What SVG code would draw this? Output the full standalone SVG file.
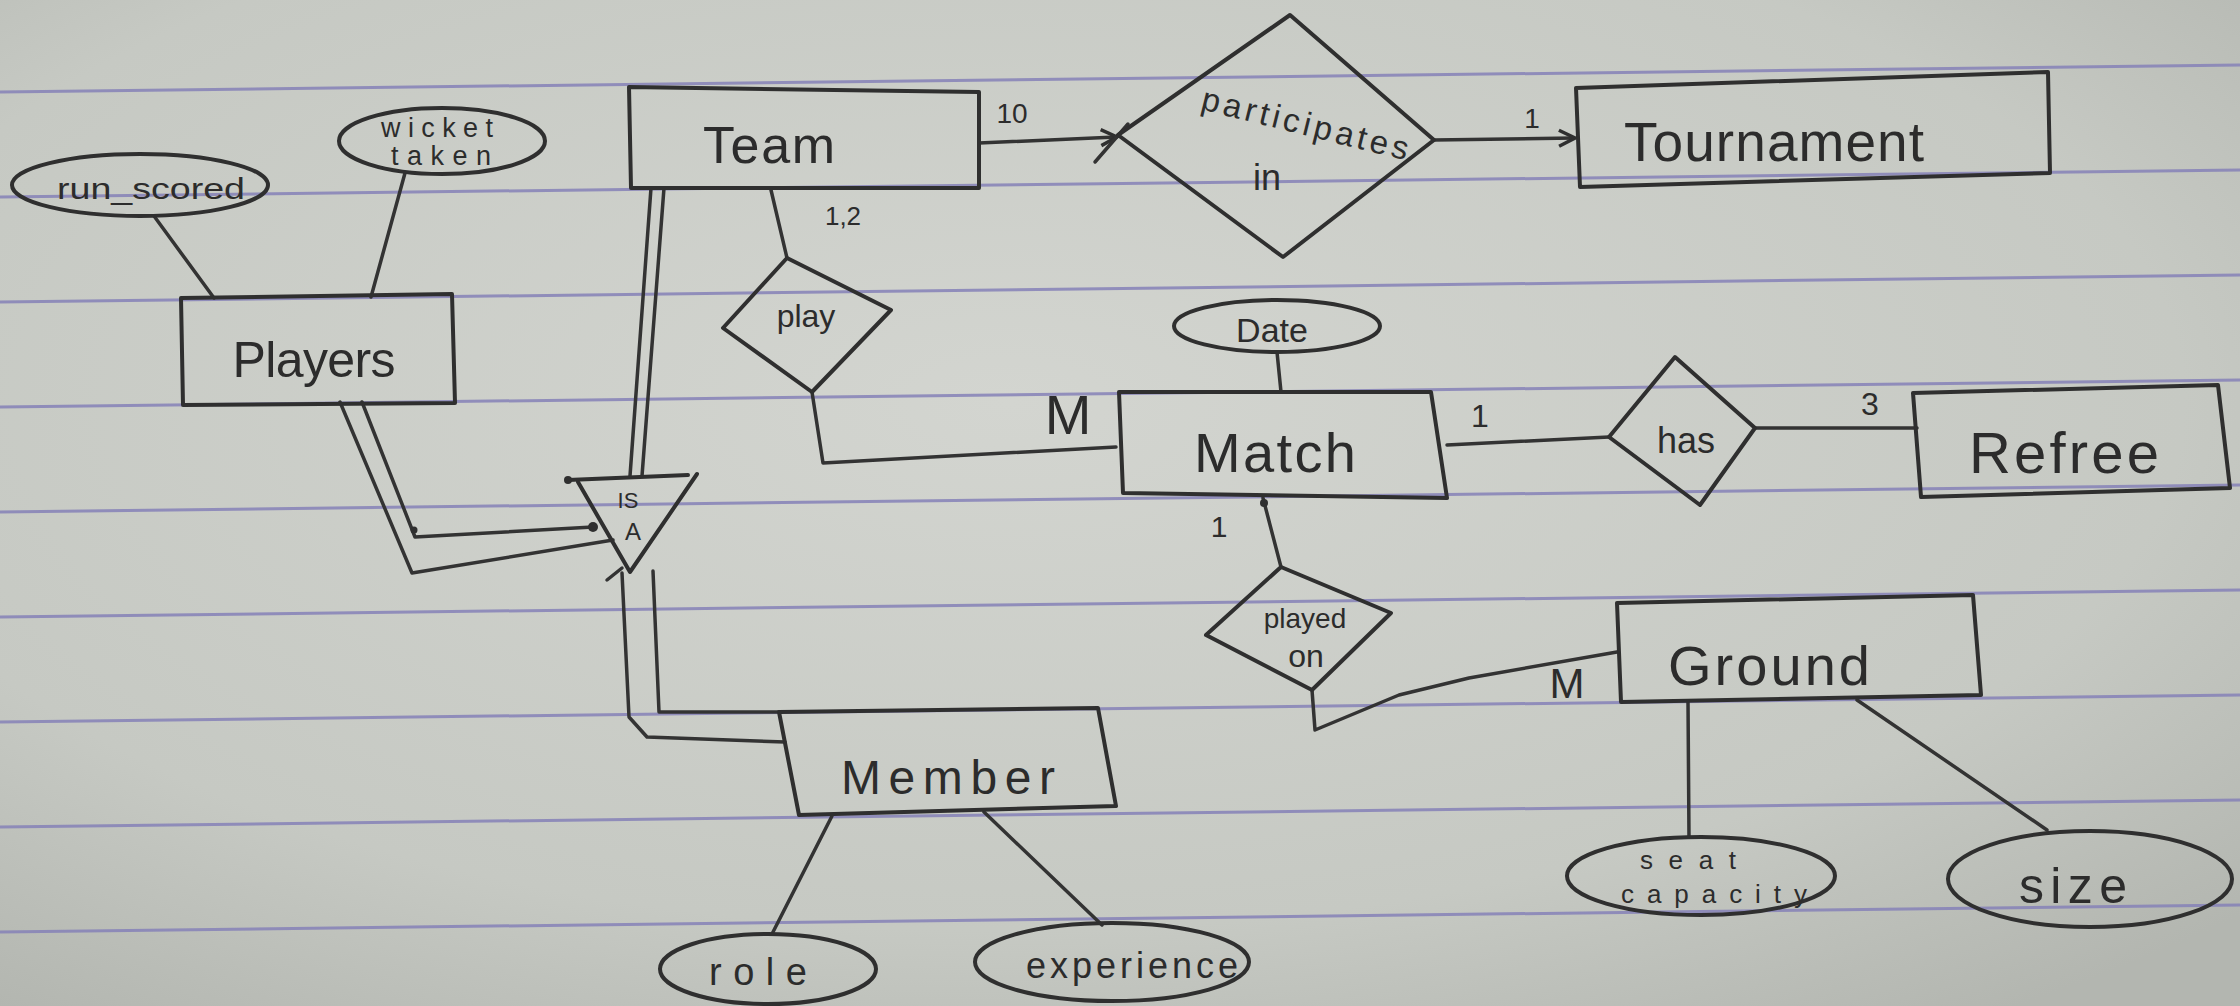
<svg xmlns="http://www.w3.org/2000/svg" width="2240" height="1006" viewBox="0 0 2240 1006">
<defs>
<radialGradient id="paper" cx="0.45" cy="0.4" r="0.75">
<stop offset="0" stop-color="#d3d5d0"/>
<stop offset="0.7" stop-color="#c6c9c3"/>
<stop offset="1" stop-color="#b3b6b0"/>
</radialGradient>
<marker id="arr" viewBox="0 0 20 20" refX="17" refY="10" markerWidth="20" markerHeight="20" markerUnits="userSpaceOnUse" orient="auto">
<path d="M2,2 L18,10 L2,18" fill="none" stroke="#2f2f2f" stroke-width="3.5"/>
</marker>
<style>
.ink{fill:none;stroke:#2f2f2f;stroke-width:4;stroke-linejoin:round;stroke-linecap:round}
.ln{fill:none;stroke:#333;stroke-width:3.5;stroke-linejoin:round;stroke-linecap:round}
.rule{stroke:#8682b8;stroke-width:3;opacity:0.85}
.t{font-family:"Liberation Sans","DejaVu Sans",sans-serif;fill:#2c2c2c;text-anchor:middle}
.dot{fill:#2f2f2f}
</style>
</defs>
<rect width="2240" height="1006" fill="url(#paper)"/>
<g id="paper-lines">
<line class="rule" x1="0" y1="92" x2="2240" y2="65"/>
<line class="rule" x1="0" y1="197" x2="2240" y2="170"/>
<line class="rule" x1="0" y1="302" x2="2240" y2="275"/>
<line class="rule" x1="0" y1="407" x2="2240" y2="380"/>
<line class="rule" x1="0" y1="512" x2="2240" y2="485"/>
<line class="rule" x1="0" y1="617" x2="2240" y2="590"/>
<line class="rule" x1="0" y1="722" x2="2240" y2="695"/>
<line class="rule" x1="0" y1="827" x2="2240" y2="800"/>
<line class="rule" x1="0" y1="932" x2="2240" y2="905"/>
</g>

<g id="connectors">
<!-- attributes -->
<line class="ln" x1="154" y1="216" x2="214" y2="298"/>
<line class="ln" x1="405" y1="173" x2="371" y2="297"/>
<line class="ln" x1="1277" y1="352" x2="1281" y2="392"/>
<line class="ln" x1="832" y1="816" x2="772" y2="934"/>
<line class="ln" x1="984" y1="812" x2="1102" y2="925"/>
<line class="ln" x1="1688" y1="702" x2="1689" y2="837"/>
<line class="ln" x1="1857" y1="700" x2="2047" y2="830"/>
<!-- Team - participates in - Tournament -->
<line class="ln" x1="979" y1="143" x2="1116" y2="137" marker-end="url(#arr)"/>
<line class="ln" x1="1095" y1="162" x2="1128" y2="124" stroke="#5a3a3a"/>
<line class="ln" x1="1434" y1="140" x2="1574" y2="138" marker-end="url(#arr)"/>
<!-- Team - play - Match -->
<polyline class="ln" points="771,190 787,258"/>
<polyline class="ln" points="812,392 823,463 1116,447"/>
<!-- Match - has - Refree -->
<polyline class="ln" points="1447,445 1609,437"/>
<polyline class="ln" points="1755,428 1917,428"/>
<!-- Match - played on - Ground -->
<polyline class="ln" points="1263,498 1281,567"/>
<circle class="dot" cx="1264" cy="503" r="4"/>
<polyline class="ln" points="1312,690 1315,730 1399,695 1469,678 1617,652"/>
<!-- Team = ISA -->
<line class="ln" x1="651" y1="188" x2="630" y2="476"/>
<line class="ln" x1="664" y1="188" x2="642" y2="476"/>
<!-- Players = ISA -->
<polyline class="ln" points="340,402 412,573 613,540"/>
<polyline class="ln" points="362,402 415,537 593,527"/>
<circle class="dot" cx="593" cy="527" r="5"/>
<circle class="dot" cx="414" cy="530" r="3.5"/>
<!-- ISA = Member -->
<polyline class="ln" points="622,573 629,717 647,737 785,742"/>
<polyline class="ln" points="653,571 659,712 782,712"/>
<line class="ln" x1="607" y1="580" x2="622" y2="568"/>
</g>

<g id="players">
<polygon class="ink" points="181,298 452,294 455,403 183,405"/>
<text class="t" x="314" y="377" font-size="50" textLength="163">Players</text>
</g>
<g id="run_scored">
<ellipse class="ink" cx="140" cy="185" rx="128" ry="31"/>
<text class="t" x="151" y="199" font-size="30" textLength="188" lengthAdjust="spacingAndGlyphs">run_scored</text>
</g>
<g id="wicket_taken">
<ellipse class="ink" cx="442" cy="141" rx="103" ry="33"/>
<text class="t" x="437" y="137" font-size="27" textLength="112">wicket</text>
<text class="t" x="441" y="165" font-size="27" textLength="100">taken</text>
</g>
<g id="team">
<polygon class="ink" points="629,87 979,92 979,188 631,188"/>
<text class="t" x="769" y="163" font-size="52" textLength="132">Team</text>
<text class="t" x="1012" y="123" font-size="28">10</text>
<text class="t" x="843" y="225" font-size="26">1,2</text>
</g>
<g id="participates_in">
<polygon class="ink" points="1290,15 1434,140 1283,257 1118,135"/>
<text class="t" x="1305" y="135" font-size="33" textLength="212" transform="rotate(14 1305 125)">participates</text>
<text class="t" x="1267" y="190" font-size="36">in</text>
<text class="t" x="1532" y="128" font-size="28">1</text>
</g>
<g id="tournament">
<polygon class="ink" points="1576,88 2048,72 2050,173 1580,187"/>
<text class="t" x="1774" y="161" font-size="55" textLength="300">Tournament</text>
</g>
<g id="play">
<polygon class="ink" points="787,258 891,310 812,392 723,328"/>
<text class="t" x="806" y="327" font-size="32">play</text>
<text class="t" x="1068" y="434" font-size="56">M</text>
</g>
<g id="date">
<ellipse class="ink" cx="1277" cy="326" rx="103" ry="26"/>
<text class="t" x="1272" y="342" font-size="34">Date</text>
</g>
<g id="match">
<polygon class="ink" points="1119,392 1431,392 1447,498 1123,493"/>
<text class="t" x="1275" y="472" font-size="56" textLength="162">Match</text>
<text class="t" x="1480" y="427" font-size="32">1</text>
<text class="t" x="1219" y="537" font-size="30">1</text>
</g>
<g id="has">
<polygon class="ink" points="1675,357 1755,428 1700,505 1609,437"/>
<text class="t" x="1686" y="453" font-size="36">has</text>
<text class="t" x="1870" y="415" font-size="32">3</text>
</g>
<g id="refree">
<polygon class="ink" points="1913,393 2218,385 2230,488 1921,497"/>
<text class="t" x="2064" y="473" font-size="58" textLength="190">Refree</text>
</g>
<g id="played_on">
<polygon class="ink" points="1281,567 1391,613 1312,690 1206,635"/>
<text class="t" x="1305" y="628" font-size="28">played</text>
<text class="t" x="1306" y="667" font-size="32">on</text>
<text class="t" x="1567" y="698" font-size="42">M</text>
</g>
<g id="ground">
<polygon class="ink" points="1617,603 1973,595 1981,695 1621,702"/>
<text class="t" x="1769" y="685" font-size="56" textLength="202">Ground</text>
</g>
<g id="seat_capacity">
<ellipse class="ink" cx="1701" cy="876" rx="134" ry="39"/>
<text class="t" x="1688" y="869" font-size="26" textLength="96">seat</text>
<text class="t" x="1714" y="903" font-size="26" textLength="186">capacity</text>
</g>
<g id="size">
<ellipse class="ink" cx="2090" cy="879" rx="142" ry="48"/>
<text class="t" x="2073" y="903" font-size="50" textLength="108">size</text>
</g>
<g id="isa">
<polyline class="ink" points="568,480 688,475"/>
<polyline class="ink" points="578,482 630,572 697,474"/>
<circle class="dot" cx="568" cy="480" r="4"/>
<text class="t" x="628" y="508" font-size="22">IS</text>
<text class="t" x="633" y="540" font-size="24">A</text>
</g>
<g id="member">
<polygon class="ink" points="779,712 1098,708 1116,806 799,815"/>
<text class="t" x="948" y="794" font-size="48" textLength="214">Member</text>
</g>
<g id="role">
<ellipse class="ink" cx="768" cy="969" rx="108" ry="35"/>
<text class="t" x="758" y="985" font-size="38" textLength="98">role</text>
</g>
<g id="experience">
<ellipse class="ink" cx="1112" cy="962" rx="137" ry="39"/>
<text class="t" x="1132" y="978" font-size="36" textLength="212">experience</text>
</g>
</svg>
